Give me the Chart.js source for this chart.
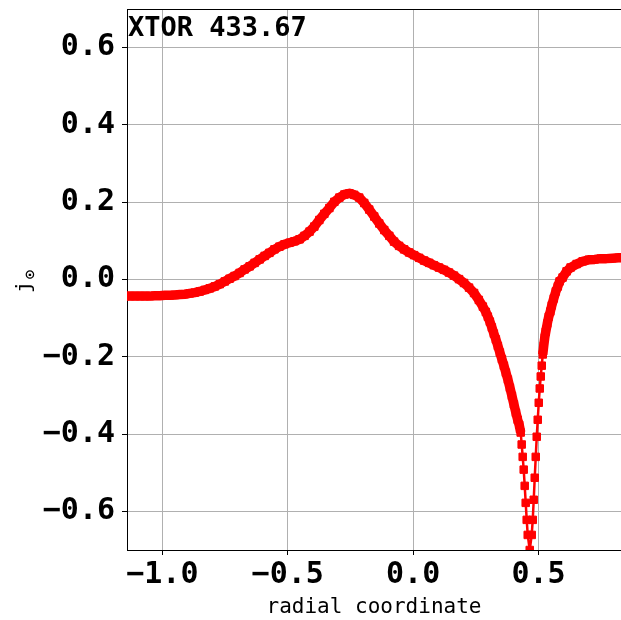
<!DOCTYPE html>
<html>
<head>
<meta charset="utf-8">
<script src="https://cdn.jsdelivr.net/npm/chart.js@4/dist/chart.umd.min.js"></script>
<style>
  html, body { margin: 0; padding: 0; background: #fff; overflow: hidden; }
  #wrap { width: 621px; height: 620px; position: relative; }
</style>
</head>
<body>
<div id="wrap"><canvas id="jphi"></canvas></div>
<script>
var title = 'XTOR 433.67';

// radial coordinate of each sample
var radius = [
  -1.169, -1.149, -1.129, -1.109, -1.089, -1.070, -1.050, -1.030, -1.010, -0.990,
  -0.970, -0.950, -0.930, -0.911, -0.891, -0.871, -0.851, -0.831, -0.811, -0.791,
  -0.771, -0.751, -0.732, -0.712, -0.692, -0.672, -0.652, -0.632, -0.612, -0.592,
  -0.573, -0.553, -0.533, -0.513, -0.493, -0.473, -0.453, -0.433, -0.413, -0.394,
  -0.374, -0.354, -0.334, -0.314, -0.294, -0.274, -0.254, -0.235, -0.215, -0.195,
  -0.175, -0.155, -0.135, -0.115, -0.095, -0.076, -0.056, -0.036, -0.016, 0.004,
  0.024, 0.044, 0.064, 0.083, 0.103, 0.123, 0.143, 0.163, 0.183, 0.203,
  0.223, 0.243, 0.262, 0.278, 0.290, 0.298, 0.306, 0.314, 0.322, 0.330,
  0.338, 0.346, 0.354, 0.362, 0.370, 0.378, 0.386, 0.394, 0.402, 0.410,
  0.417, 0.423, 0.429, 0.433, 0.437, 0.441, 0.445, 0.449, 0.453, 0.457,
  0.465, 0.473, 0.477, 0.481, 0.485, 0.489, 0.493, 0.497, 0.501, 0.505,
  0.509, 0.513, 0.517, 0.521, 0.525, 0.529, 0.535, 0.541, 0.547, 0.553,
  0.561, 0.569, 0.577, 0.584, 0.596, 0.612, 0.628, 0.652, 0.676, 0.700,
  0.724, 0.748, 0.771, 0.795, 0.819, 0.843
];

// toroidal current density j_phi
var jphi = [
  -0.043, -0.043, -0.043, -0.043, -0.043, -0.043, -0.043, -0.042, -0.042, -0.041,
  -0.041, -0.040, -0.039, -0.038, -0.036, -0.034, -0.031, -0.027, -0.023, -0.018,
  -0.012, -0.005, 0.002, 0.009, 0.017, 0.026, 0.034, 0.043, 0.052, 0.061,
  0.069, 0.078, 0.085, 0.091, 0.095, 0.099, 0.104, 0.113, 0.124, 0.137,
  0.154, 0.170, 0.185, 0.201, 0.212, 0.220, 0.223, 0.219, 0.212, 0.198,
  0.181, 0.163, 0.145, 0.128, 0.113, 0.098, 0.087, 0.078, 0.070, 0.063,
  0.056, 0.049, 0.043, 0.037, 0.031, 0.025, 0.018, 0.010, 0.001, -0.009,
  -0.021, -0.035, -0.053, -0.070, -0.084, -0.096, -0.109, -0.124, -0.140, -0.155,
  -0.172, -0.189, -0.206, -0.223, -0.241, -0.259, -0.280, -0.301, -0.323, -0.345,
  -0.363, -0.376, -0.396, -0.427, -0.459, -0.492, -0.534, -0.578, -0.622, -0.661,
  -0.700, -0.661, -0.622, -0.570, -0.513, -0.459, -0.407, -0.363, -0.319, -0.282,
  -0.251, -0.223, -0.194, -0.171, -0.150, -0.135, -0.114, -0.096, -0.083, -0.067,
  -0.049, -0.031, -0.018, -0.005, 0.005, 0.021, 0.031, 0.040, 0.047, 0.051,
  0.052, 0.054, 0.054, 0.055, 0.056, 0.056
];

var xTicks = [-1.0, -0.5, 0.0, 0.5];
var yTicks = [-0.6, -0.4, -0.2, 0.0, 0.2, 0.4, 0.6];

var points = radius.map((r, i) => ({ x: r, y: jphi[i] }));

function fmt(v) {
    return v.toFixed(1).replace('-', '\u2212');
}

// where samples sit close together the markers merge into one thick band
function segWidth(c) {
    const dx = c.p1.x - c.p0.x;
    const dy = c.p1.y - c.p0.y;
    return Math.sqrt(dx * dx + dy * dy) < 10.5 ? 9.5 : 2.5;
}

// frame top line, the run label and the y label with its subscript
var decorations = {
    id: 'decorations',
    afterDraw(chart) {
	const ctx = chart.ctx;
	const a = chart.chartArea;
	ctx.save();
	ctx.strokeStyle = '#000';
	ctx.lineWidth = 1;
	ctx.beginPath();
	ctx.moveTo(a.left, a.top + 0.5);
	ctx.lineTo(a.right, a.top + 0.5);
	ctx.stroke();

	ctx.fillStyle = '#000';
	ctx.font = 'bold 27px "DejaVu Sans Mono"';
	ctx.textBaseline = 'alphabetic';
	ctx.textAlign = 'left';
	ctx.fillText(title, a.left + 1, a.top + 27);

	ctx.translate(30, 293);
	ctx.rotate(-Math.PI / 2);
	ctx.font = '20px "DejaVu Sans Mono"';
	ctx.fillText('j', 0, 0);
	ctx.font = 'bold 13px "DejaVu Sans"';
	ctx.fillText('\u2299', 13, 4);
	ctx.restore();
    }
};

var ctx = document.getElementById('jphi');
var chart = new Chart(ctx, {
    type: 'line',
    data: {
	datasets: [{
	    data: points,
	    borderColor: '#ff0000',
	    borderWidth: 2.5,
	    borderJoinStyle: 'round',
	    segment: { borderWidth: segWidth },
	    backgroundColor: '#ff0000',
	    pointStyle: 'rect',
	    pointRadius: 5.3,
	    pointBorderWidth: 1,
	    pointBackgroundColor: '#ff0000',
	    pointBorderColor: '#ff0000',
	    tension: 0,
	    fill: false
	}]
    },
    options: {
	animation: false,
	responsive: true,
	maintainAspectRatio: false,
	layout: { autoPadding: false, padding: { top: 9, right: 0, left: 0, bottom: 0 } },
	scales: {
	    x: {
		type: 'linear',
		min: -1.141,
		max: 0.829,
		afterFit: (s) => { s.height = 70; s.paddingLeft = 0; s.paddingRight = 0; },
		afterBuildTicks: (s) => { s.ticks = xTicks.map(v => ({ value: v })); },
		grid: { color: '#b0b0b0', lineWidth: 1, tickLength: 5, tickColor: '#000' },
		border: { color: '#000', width: 1 },
		ticks: {
		    color: '#000',
		    padding: 2,
		    maxRotation: 0,
		    font: { family: 'DejaVu Sans Mono', weight: 'bold', size: 30 },
		    callback: (v) => fmt(v)
		},
		title: {
		    display: true,
		    text: 'radial coordinate',
		    color: '#000',
		    padding: { top: 0, bottom: 0 },
		    font: { family: 'DejaVu Sans Mono', size: 21 }
		}
	    },
	    y: {
		min: -0.7,
		max: 0.7,
		afterFit: (s) => { s.width = 127; s.paddingTop = 0; s.paddingBottom = 0; },
		afterBuildTicks: (s) => { s.ticks = yTicks.map(v => ({ value: v })); },
		grid: { color: '#b0b0b0', lineWidth: 1, tickLength: 5, tickColor: '#000' },
		border: { color: '#000', width: 1 },
		ticks: {
		    color: '#000',
		    padding: 7,
		    font: { family: 'DejaVu Sans Mono', weight: 'bold', size: 30 },
		    callback: (v) => fmt(v)
		}
	    }
	},
	plugins: {
	    legend: { display: false },
	    tooltip: { enabled: false }
	}
    },
    plugins: [decorations]
});
</script>
</body>
</html>
